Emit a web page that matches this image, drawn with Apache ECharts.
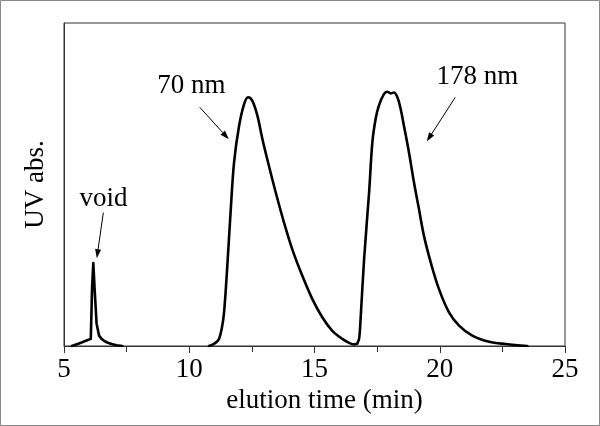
<!DOCTYPE html>
<html><head><meta charset="utf-8">
<script src="https://cdn.jsdelivr.net/npm/echarts@6/dist/echarts.min.js"></script>
<style>html,body{margin:0;padding:0;background:#fff}#c{width:600px;height:426px}</style>
</head><body><div id="c"></div><script>
// elution time (min) and UV absorbance (relative units, axis 0-100)
const voidTime = [5.31, 5.6, 5.9, 6.07, 6.12, 6.17, 6.22, 6.3, 6.4, 6.5, 6.6, 6.75, 6.9, 7.1, 7.33];
const voidAbs  = [0, 0.8, 1.7, 2.2, 18, 25.7, 18, 7, 3.2, 2.2, 1.6, 1.0, 0.6, 0.25, 0];
const p70Time = [10.79, 10.95, 11.1, 11.19, 11.3, 11.39, 11.52, 11.65, 11.79, 11.99, 12.19, 12.35, 12.52, 12.72, 12.92, 13.18, 13.45, 13.78, 14.11, 14.51, 14.91, 15.31, 15.71, 16.11, 16.4, 16.58, 16.7];
const p70Abs  = [0, 0.5, 1.3, 2.2, 5.5, 10.4, 24.9, 41.4, 56.9, 68.2, 74.9, 77.0, 75.9, 71.3, 64.1, 55.8, 47.6, 38.3, 30.0, 21.8, 14.6, 8.9, 4.7, 2.2, 0.9, 0.5, 0.7];
const p178Time = [16.7, 16.78, 16.84, 16.98, 17.18, 17.31, 17.44, 17.57, 17.77, 17.91, 18.04, 18.17, 18.31, 18.44, 18.57, 18.77, 18.97, 19.17, 19.37, 19.64, 19.97, 20.37, 20.77, 21.30, 21.97, 22.63, 23.5];
const p178Abs  = [0.7, 2.2, 8.4, 26.9, 47.6, 63.1, 70.3, 74.4, 78.0, 78.7, 78.2, 78.5, 77.0, 73.4, 68.2, 60.0, 50.7, 42.4, 34.1, 25.9, 17.6, 10.4, 6.3, 3.2, 1.3, 0.6, 0];
const xTicks = [5, 10, 15, 20, 25];
// annotations: label, label position [t, abs], arrow from [t, abs] to [t, abs]
const annLabels = ['void', '70 nm', '178 nm'];
const annTextPos = [[6.58, 45.5], [10.08, 80.5], [21.5, 83.2]];
const annArrowFrom = [[6.57, 41.3], [10.42, 73.9], [20.62, 77.0]];
const annArrowTo = [[6.31, 27.2], [11.58, 64.0], [19.48, 63.3]];

const FONT = 'Liberation Serif';
const FS = 27;
const zip = (a, b) => a.map((v, i) => [v, b[i]]);
const chart = echarts.init(document.getElementById('c'), null, {renderer: 'canvas'});
const mkLine = () => ({color: '#000', width: 2.6, join: 'round', cap: 'round'});
chart.setOption({
  animation: false,
  grid: {left: 64, right: 35, top: 23, bottom: 80, show: true, borderColor: '#333', borderWidth: 1},
  xAxis: {
    type: 'value', min: xTicks[0], max: xTicks[xTicks.length - 1], interval: 5,
    name: 'elution time (min)', nameLocation: 'middle', nameGap: 37,
    nameTextStyle: {fontFamily: FONT, fontSize: FS, color: '#000', padding: [0, 0, 0, 20]},
    axisLine: {lineStyle: {color: '#333', width: 1}},
    axisTick: {length: 7, lineStyle: {color: '#333'}},
    minorTick: {show: true, splitNumber: 2, length: 6, lineStyle: {color: '#333'}},
    splitLine: {show: false},
    axisLabel: {fontFamily: FONT, fontSize: FS, color: '#000', margin: 10}
  },
  yAxis: {
    type: 'value', min: 0, max: 100,
    name: 'UV abs.', nameLocation: 'middle', nameGap: 15, nameRotate: 90,
    nameTextStyle: {fontFamily: FONT, fontSize: FS, color: '#000'},
    axisLine: {show: true, lineStyle: {color: '#333', width: 1}},
    axisTick: {show: false}, axisLabel: {show: false}, splitLine: {show: false}
  },
  series: [
    {type: 'line', data: zip(voidTime, voidAbs), showSymbol: false, lineStyle: mkLine(), smooth: false},
    {type: 'line', data: zip(p70Time, p70Abs), showSymbol: false, lineStyle: mkLine(), smooth: 0.35},
    {type: 'line', data: zip(p178Time, p178Abs), showSymbol: false, lineStyle: mkLine(), smooth: 0.35}
  ]
});
const px = p => chart.convertToPixel({gridIndex: 0}, p);
const graphics = [{type: 'rect', shape: {x: 0.5, y: 0.5, width: 599, height: 425}, style: {fill: 'none', stroke: '#888', lineWidth: 1}, silent: true}];
annLabels.forEach((lab, i) => {
  const t = px(annTextPos[i]);
  graphics.push({type: 'text', x: t[0], y: t[1], style: {text: lab, font: FS + 'px "' + FONT + '"', fill: '#000', align: 'center', verticalAlign: 'middle'}});
  const a = px(annArrowFrom[i]), b = px(annArrowTo[i]);
  const dx = b[0] - a[0], dy = b[1] - a[1], L = Math.hypot(dx, dy);
  const ux = dx / L, uy = dy / L, hl = 9, hw = 3;
  const bx = b[0] - ux * hl, by = b[1] - uy * hl;
  graphics.push({type: 'line', shape: {x1: a[0], y1: a[1], x2: bx, y2: by}, style: {stroke: '#000', lineWidth: 1}});
  graphics.push({type: 'polygon', shape: {points: [[b[0], b[1]], [bx - uy * hw, by + ux * hw], [bx + uy * hw, by - ux * hw]]}, style: {fill: '#000'}});
});
chart.setOption({graphic: graphics});
</script></body></html>
